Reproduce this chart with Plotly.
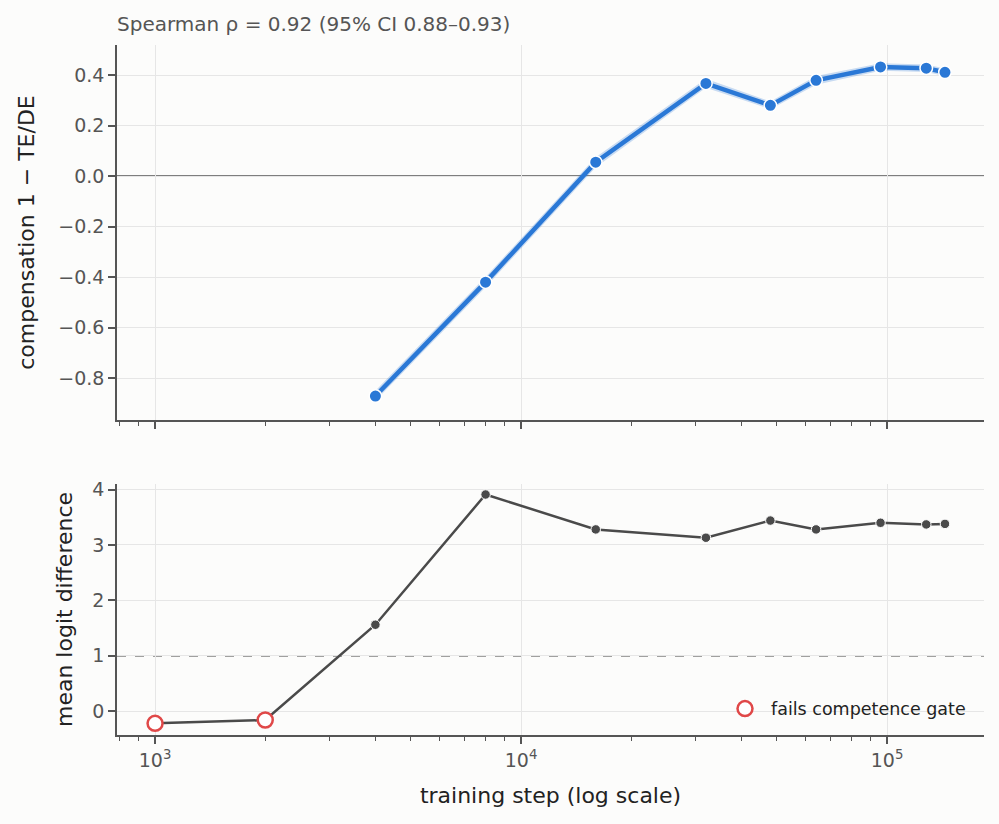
import plotly.graph_objects as go

# compensation (1 - TE/DE) per checkpoint, with a thin CI band
comp_steps = [4000, 8000, 16000, 32000, 48000, 64000, 96000, 128000, 144000]
comp = [-0.871, -0.42, 0.055, 0.367, 0.28, 0.379, 0.432, 0.427, 0.411]
comp_lo = [-0.89, -0.44, 0.035, 0.35, 0.265, 0.362, 0.417, 0.412, 0.396]
comp_hi = [-0.85, -0.40, 0.075, 0.385, 0.295, 0.396, 0.447, 0.442, 0.426]

# mean logit difference at every checkpoint
steps = [1000, 2000, 4000, 8000, 16000, 32000, 48000, 64000, 96000, 128000, 144000]
logit = [-0.22, -0.16, 1.56, 3.91, 3.28, 3.13, 3.44, 3.28, 3.40, 3.37, 3.38]
fails = [True, True, False, False, False, False, False, False, False, False, False]

gate = 1.0
title_txt = "Spearman ρ = 0.92 (95% CI 0.88–0.93)"

BLUE = "#2a78d6"
DARK = "#4a4a4a"
RED = "#e04848"
BG = "#fcfcfb"
AX = "#555555"
GRID = "#e6e6e6"

fig = go.Figure()

fig.add_trace(go.Scatter(x=comp_steps, y=comp_hi, mode="lines", line=dict(width=0),
                         showlegend=False, hoverinfo="skip", xaxis="x", yaxis="y"))
fig.add_trace(go.Scatter(x=comp_steps, y=comp_lo, mode="lines", line=dict(width=0),
                         fill="tonexty", fillcolor="rgba(42,120,214,0.25)",
                         showlegend=False, hoverinfo="skip", xaxis="x", yaxis="y"))
fig.add_trace(go.Scatter(x=comp_steps, y=comp, mode="lines+markers",
                         line=dict(color=BLUE, width=4.5),
                         marker=dict(size=12.5, color=BLUE, line=dict(color="white", width=1.5)),
                         showlegend=False, xaxis="x", yaxis="y"))

ok_x = [s for s, f in zip(steps, fails) if not f]
ok_y = [v for v, f in zip(logit, fails) if not f]
bad_x = [s for s, f in zip(steps, fails) if f]
bad_y = [v for v, f in zip(logit, fails) if f]

fig.add_trace(go.Scatter(x=steps, y=logit, mode="lines", line=dict(color=DARK, width=2.5),
                         showlegend=False, xaxis="x2", yaxis="y2"))
fig.add_trace(go.Scatter(x=ok_x, y=ok_y, mode="markers",
                         marker=dict(size=9.5, color=DARK, line=dict(color="white", width=1)),
                         showlegend=False, xaxis="x2", yaxis="y2"))
fig.add_trace(go.Scatter(x=bad_x, y=bad_y, mode="markers", name="fails competence gate",
                         marker=dict(size=15, color="white", line=dict(color=RED, width=2.5)),
                         xaxis="x2", yaxis="y2"))

minor_vals = [800, 900] + [k * 1000 for k in range(2, 10)] + [k * 10000 for k in range(2, 10)]
xr = [2.896, 5.265]

def xaxis(show_labels, anchor, title=None):
    d = dict(type="log", range=xr, anchor=anchor,
             tickvals=[1000, 10000, 100000],
             ticktext=["10<sup>3</sup>", "10<sup>4</sup>", "10<sup>5</sup>"] if show_labels else ["", "", ""],
             ticks="outside", ticklen=7, tickwidth=1.5, tickcolor=AX,
             showline=True, linecolor=AX, linewidth=1.5,
             showgrid=True, gridcolor=GRID, gridwidth=1, zeroline=False,
             tickfont=dict(size=19, color=AX),
             minor=dict(tickvals=minor_vals, ticks="outside", ticklen=4, tickwidth=1,
                        tickcolor=AX, showgrid=False))
    if title:
        d["title"] = dict(text=title, font=dict(size=22, color="#222"), standoff=18)
    return d

fig.update_layout(
    width=999, height=824,
    paper_bgcolor=BG, plot_bgcolor=BG,
    font=dict(family="DejaVu Sans", color=AX),
    margin=dict(l=117, r=15, t=45, b=89),
    title=dict(text=title_txt, x=117 / 999, xanchor="left", y=1 - 24 / 824, yanchor="middle",
               font=dict(size=20, color=AX)),
    xaxis=xaxis(False, "y"),
    xaxis2=xaxis(True, "y2", "training step (log scale)"),
    yaxis=dict(domain=[0.4565, 1], range=[-0.966, 0.519], anchor="x",
               tickvals=[-0.8, -0.6, -0.4, -0.2, 0.0, 0.2, 0.4], tickformat=".1f",
               ticks="outside", ticklen=7, tickwidth=1.5, tickcolor=AX,
               showline=True, linecolor=AX, linewidth=1.5,
               showgrid=True, gridcolor=GRID, zeroline=False,
               tickfont=dict(size=19, color=AX),
               title=dict(text="compensation 1 − TE/DE", font=dict(size=22, color="#222"), standoff=18)),
    yaxis2=dict(domain=[0, 0.3638], range=[-0.43, 4.1], anchor="x2",
                tickvals=[0, 1, 2, 3, 4],
                ticks="outside", ticklen=7, tickwidth=1.5, tickcolor=AX,
                showline=True, linecolor=AX, linewidth=1.5,
                showgrid=True, gridcolor=GRID, zeroline=False,
                tickfont=dict(size=19, color=AX),
                title=dict(text="mean logit difference", font=dict(size=22, color="#222"), standoff=14)),
    legend=dict(x=0.985, y=0.012, xanchor="right", yanchor="bottom", xref="paper", yref="paper",
                itemwidth=42, bgcolor="rgba(0,0,0,0)", font=dict(size=17.5, color="#222")),
    shapes=[
        dict(type="line", xref="x domain", yref="y", x0=0, x1=1, y0=0, y1=0,
             line=dict(color=AX, width=1.6), layer="below"),
        dict(type="line", xref="x2 domain", yref="y2", x0=0, x1=1, y0=gate, y1=gate,
             line=dict(color="#444444", width=1.5, dash="dash"), layer="below"),
    ],
)

fig.write_html("out.html", config={"displayModeBar": False},
               post_script="document.body.style.margin='0';")
